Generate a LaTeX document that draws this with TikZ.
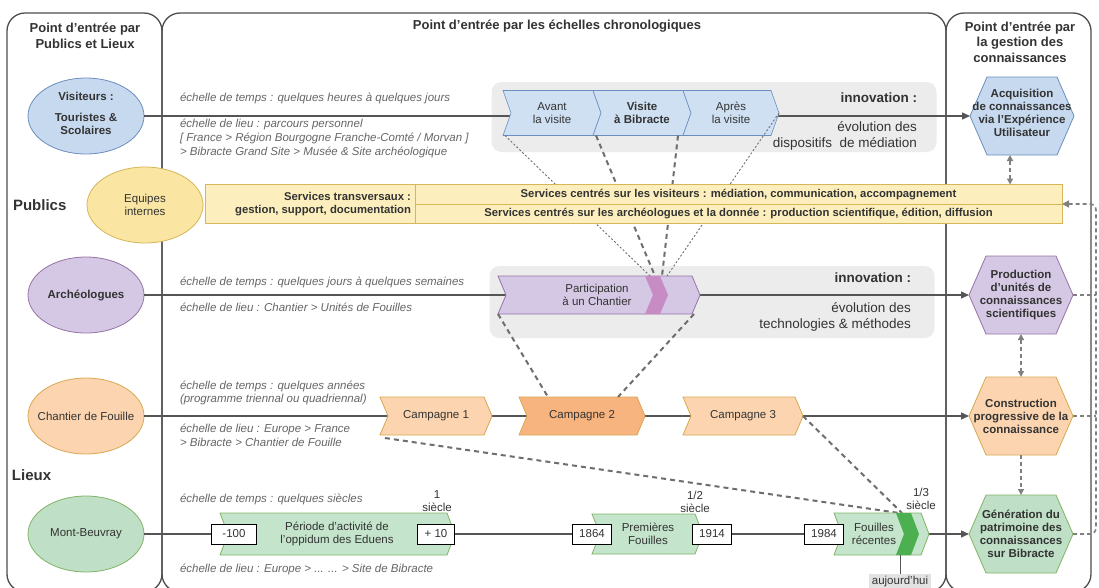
\documentclass[tikz,border=0pt]{standalone}
\usepackage{fontspec}
\setmainfont{Liberation Sans}
\usetikzlibrary{shapes.geometric,arrows.meta,calc}
\definecolor{txt}{HTML}{333333}
\definecolor{itc}{HTML}{666666}
\definecolor{pline}{HTML}{4D4D4D}
\definecolor{mlc}{HTML}{555555}
\definecolor{dsh}{HTML}{6E6E6E}
\definecolor{hdc}{HTML}{808080}
\definecolor{blueF}{HTML}{C6D9EF}
\definecolor{blueD}{HTML}{6C8EBF}
\definecolor{chbF}{HTML}{CFE0F3}
\definecolor{purF}{HTML}{D5C8E4}
\definecolor{purD}{HTML}{9673A6}
\definecolor{oraF}{HTML}{FCD5B0}
\definecolor{oraD}{HTML}{D6A850}
\definecolor{ora2F}{HTML}{F8B47F}
\definecolor{yelF}{HTML}{FCEFBD}
\definecolor{yelD}{HTML}{D6B656}
\definecolor{equF}{HTML}{FAE6A2}
\definecolor{equD}{HTML}{D6B656}
\definecolor{greF}{HTML}{BFE0C6}
\definecolor{greD}{HTML}{82B366}
\definecolor{greC}{HTML}{C4E4CB}
\definecolor{greK}{HTML}{4CAF50}
\definecolor{pinkF}{HTML}{C78CC4}
\definecolor{bandF}{HTML}{ECECEC}
\definecolor{aujF}{HTML}{E2E2E2}
\newcommand\chd{8}
% chevron: name, x0, xtip, yc, half height, style
\newcommand\chevshape[6]{%
  \path[#6] (#2,#4-#5) -- (#3-\chd,#4-#5) -- (#3,#4) -- (#3-\chd,#4+#5) -- (#2,#4+#5) -- (#2+\chd,#4) -- cycle;
  \node[minimum width={#3-#2}, minimum height={2*#5}] (#1) at ({(#2+#3)/2},#4) {};
}
% hexagon: name, xc, yc, half width, half height, depth, style
\newcommand\hexshape[7]{%
  \path[#7] (#2-#4,#3) -- (#2-#4+#6,#3-#5) -- (#2+#4-#6,#3-#5) -- (#2+#4,#3) -- (#2+#4-#6,#3+#5) -- (#2-#4+#6,#3+#5) -- cycle;
  \node[minimum width={2*#4}, minimum height={2*#5}] (#1) at (#2,#3) {};
}
\begin{document}
\begin{tikzpicture}[x=1pt,y=-1pt,
  every node/.style={inner sep=0pt,outer sep=0pt,text=txt},
  panel/.style={draw=pline,line width=1.3pt,rounded corners=18pt},
  ttl/.style={font=\fontsize{13}{15.5}\selectfont\bfseries,align=center},
  bigl/.style={font=\fontsize{15}{18}\selectfont\bfseries},
  ital/.style={font=\fontsize{11.5}{13.8}\selectfont\itshape,text=itc,anchor=west,align=left},
  lab/.style={font=\fontsize{11.5}{13}\selectfont,align=center},
  blab/.style={font=\fontsize{11.5}{13}\selectfont\bfseries,align=center},
  ell/.style={ellipse,draw=#1D,fill=#1F,line width=.8pt,minimum width=116pt,minimum height=76pt},
  inno/.style={font=\fontsize{13.5}{16}\selectfont,align=right,anchor=east},
  bartxt/.style={font=\fontsize{11.3}{13}\selectfont\bfseries,align=center},
  mline/.style={draw=mlc,line width=1.3pt},
  arr/.style={-{Triangle[length=8pt,width=7pt]}},
  thickdash/.style={draw=dsh,line width=2pt,dash pattern=on 5pt off 4pt},
  thindot/.style={draw=dsh,line width=.9pt,dash pattern=on 2pt off 2pt},
  hexdash/.style={draw=hdc,line width=1.6pt,dash pattern=on 4pt off 3pt},
  yrbox/.style={draw=black,fill=white,line width=.9pt,minimum height=20pt,font=\fontsize{11.5}{13}\selectfont},
  chb/.style={fill=chbF,draw=blueD,line width=.6pt},
  chp/.style={fill=purF,draw=purD,line width=.8pt},
  cho/.style={fill=oraF,draw=oraD,line width=.8pt},
  chg/.style={fill=greC,draw=greD,line width=.8pt},
]
\useasboundingbox (0,0) rectangle (1099,587);
\fill[white] (0,0) rectangle (1099,587);
% panels
\draw[panel] (7,13) rectangle (162,592);
\draw[panel] (162,13) rectangle (946,592);
\draw[panel] (946,13) rectangle (1091,592);
\node[ttl] (t1) at (85,36) {Point d'entrée par\\Publics et Lieux};
\node[ttl] (t2) at (557,26) {Point d'entrée par les échelles chronologiques};
\node[ttl] (t3) at (1020,42) {Point d'entrée par\\la gestion des\\connaissances};
\node[bigl,anchor=west] (pub) at (13,205) {Publics};
\node[bigl,anchor=west] (lie) at (12,475) {Lieux};
% grey innovation bands
\node[fill=bandF,rounded corners=10pt,minimum width=445pt,minimum height=70pt] (band1) at (714,117) {};
\node[fill=bandF,rounded corners=10pt,minimum width=445pt,minimum height=72pt] (band2) at (712,302) {};
% ellipses and hexagons
\node[ell=blue] (vis) at (86,116) {};
\node[ell=pur] (arc) at (86,295) {};
\node[ell=ora] (cha) at (86,416) {};
\node[ell=gre] (mon) at (86,534) {};
\hexshape{acq}{1022}{116}{52}{39}{17}{fill=blueF,draw=blueD,line width=.8pt}
\hexshape{pro}{1021}{295}{52}{39}{17}{fill=purF,draw=purD,line width=.8pt}
\hexshape{con}{1021}{416}{52}{39}{17}{fill=oraF,draw=oraD,line width=.8pt}
\hexshape{gen}{1021}{534}{52}{39}{17}{fill=greF,draw=greD,line width=.8pt}
% main lines
\draw[mline,arr] (vis) -- (acq.west);
\draw[mline,arr] (arc) -- (pro.west);
\draw[mline,arr] (cha) -- (con.west);
\draw[mline,arr] (mon) -- (gen.west);
% dashed links between phases
\coordinate (pk1) at (650,276);
\coordinate (pk2) at (655,276);
\coordinate (pk3) at (662,276);
\coordinate (pk4) at (667,276);
\coordinate (fk1) at (899,513);
\coordinate (fk2) at (902,513);
% blue chevrons
\chevshape{avant}{503}{601}{113}{22.5}{chb}
\chevshape{visite}{593}{691}{113}{22.5}{chb}
\chevshape{apres}{683}{779}{113}{22.5}{chb}
\node[lab] (avantT) at (avant) {Avant\\la visite};
\node[blab] (visiteT) at (visite) {Visite\\à Bibracte};
\node[lab] (apresT) at (apres) {Après\\la visite};
\draw[thindot] ($(avant.south west)+(2,0)$) -- (pk1);
\draw[thickdash] ($(visite.south west)+(3,0)$) -- (pk2);
\draw[thickdash] ($(visite.south east)+(-13,0)$) -- (pk3);
\draw[thindot] (apres.east) -- (pk4);
% services bar
\node[fill=yelF,draw=yelD,line width=.8pt,minimum width=857pt,minimum height=39pt] (bar) at (633.5,204) {};
\draw[yelD,line width=.8pt] ($(bar.north west)+(210,0)$) -- ($(bar.south west)+(210,0)$);
\draw[yelD,line width=.8pt] ($(bar.west)+(210,0)$) -- (bar.east);
\node[bartxt,align=right,anchor=east] (st) at (411,204) {Services transversaux :\\gestion, support, documentation};
\node[bartxt] (sv) at (738.5,194.5) {Services centrés sur les visiteurs : médiation, communication, accompagnement};
\node[bartxt] (sa) at (738.5,214) {Services centrés sur les archéologues et la donnée : production scientifique, édition, diffusion};
\node[ell=equ] (equ) at (145,205) {};
\node[lab] (equT) at (equ) {Equipes\\internes};
% ellipse texts
\node[blab] (visT) at (86,113) {Visiteurs :\\[8pt]Touristes \&\\Scolaires};
\node[blab] (arcT) at (arc) {Archéologues};
\node[lab] (chaT) at (cha) {Chantier de Fouille};
\node[lab] (monT) at (mon) {Mont-Beuvray};
% hexagon texts
\node[blab] (acqT) at (1022,113) {Acquisition\\de connaissances\\via l'Expérience\\Utilisateur};
\node[blab] (proT) at (pro) {Production\\d'unités de\\connaissances\\scientifiques};
\node[blab] (conT) at (con) {Construction\\progressive de la\\connaissance};
\node[blab] (genT) at (gen) {Génération du\\patrimoine des\\connaissances\\sur Bibracte};
% participation chevron
\chevshape{part}{498}{700}{295}{19}{chp}
\path[fill=pinkF] (645,276) -- (660,276) -- (668,295) -- (660,314) -- (645,314) -- (653,295) -- cycle;
\node[lab] (partT) at (597,295) {Participation\\à un Chantier};
% campaigns
\chevshape{camp1}{380}{492}{416}{19}{cho}
\chevshape{camp2}{519}{645}{416}{19}{cho,fill=ora2F}
\chevshape{camp3}{683}{803}{416}{19}{cho}
\node[lab] (c1T) at (camp1) {Campagne 1};
\node[lab] (c2T) at (camp2) {Campagne 2};
\node[lab] (c3T) at (camp3) {Campagne 3};
\draw[thickdash] (part.south west) -- ($(camp2.north west)+(29,0)$);
\draw[thickdash] ($(part.south east)+(-6,0)$) -- ($(camp2.north)+(36,0)$);
\draw[thickdash] ($(camp1.south west)+(5,3)$) -- (fk1);
\draw[thickdash] (camp3.east) -- (fk2);
% Mont-Beuvray periods
\chevshape{per}{220}{455}{534}{21}{chg}
\chevshape{prem}{592}{703}{534}{20}{chg}
\chevshape{frec}{834}{929}{534}{21}{chg}
\path[fill=greK] (896,513) -- (911,513) -- (919,534) -- (911,555) -- (896,555) -- (904,534) -- cycle;
\node[lab] (perT) at (337,534) {Période d'activité de\\l'oppidum des Eduens};
\node[lab] (premT) at (648,534) {Premières\\Fouilles};
\node[lab] (frecT) at (874,534) {Fouilles\\récentes};
\node[yrbox,minimum width=45pt] (bm100) at (234,534) {-100};
\node[yrbox,minimum width=37pt] (bp10) at (436,534) {+ 10};
\node[yrbox,minimum width=39pt] (b1864) at (592,534) {1864};
\node[yrbox,minimum width=39pt] (b1914) at (712,534) {1914};
\node[yrbox,minimum width=39pt] (b1984) at (824,534) {1984};
\node[lab] (s1) at (437,501) {1\\siècle};
\node[lab] (s2) at (695,502) {1/2\\siècle};
\node[lab] (s3) at (921,499) {1/3\\siècle};
\node[lab,fill=aujF,inner xsep=3pt,inner ysep=3pt] (auj) at (900,582) {aujourd'hui};
\draw[mlc,line width=.8pt] (auj.north) -- (auj.north |- frec.south);
% italic scale texts
\node[ital] (v1) at (180,98) {échelle de temps : quelques heures à quelques jours};
\node[ital] (v2) at (180,138.5) {échelle de lieu : parcours personnel\\{[} France > Région Bourgogne Franche-Comté / Morvan ]\\> Bibracte Grand Site > Musée \& Site archéologique};
\node[ital] (a1) at (180,282) {échelle de temps : quelques jours à quelques semaines};
\node[ital] (a2) at (180,307) {échelle de lieu : Chantier > Unités de Fouilles};
\node[ital] (c1) at (180,393) {échelle de temps : quelques années\\(programme triennal ou quadriennal)};
\node[ital] (c2) at (180,435) {échelle de lieu : Europe > France\\> Bibracte > Chantier de Fouille};
\node[ital] (m1) at (180,499) {échelle de temps : quelques siècles};
\node[ital] (m2) at (180,569) {échelle de lieu : Europe > ... ... > Site de Bibracte};
% innovation texts
\node[inno,font=\fontsize{13.5}{16}\selectfont\bfseries] (i1) at (917,98) {innovation :};
\node[inno] (i1b) at (917,136) {évolution des\\dispositifs\ \ de médiation};
\node[inno,font=\fontsize{13.5}{16}\selectfont\bfseries] (i2) at (911,278) {innovation :};
\node[inno] (i2b) at (911,317) {évolution des\\technologies \& méthodes};
% knowledge links
\draw[hexdash,{Triangle[length=6pt,width=6pt]}-{Triangle[length=6pt,width=6pt]}] ([xshift=-12pt]acq.south) -- ([xshift=-12pt]acq.south |- bar.north);
\draw[hexdash,{Triangle[length=6pt,width=6pt]}-{Triangle[length=6pt,width=6pt]}] (pro.south) -- (con.north);
\draw[hexdash,-{Triangle[length=6pt,width=6pt]}] (con.south) -- (gen.north);
\coordinate (rc) at (1096,204);
\draw[hexdash] (pro.east) -- (pro.east -| rc);
\draw[hexdash] (con.east) -- (con.east -| rc);
\draw[hexdash,rounded corners=6pt,-{Triangle[length=7pt,width=7pt]}] (gen.east) -- (gen.east -| rc) -- (rc) -- (bar.east);
\end{tikzpicture}
\end{document}
